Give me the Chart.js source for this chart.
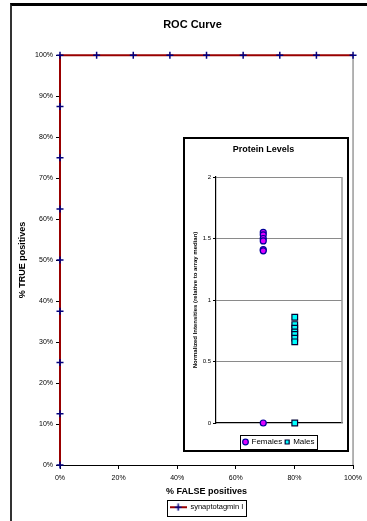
<!DOCTYPE html>
<html>
<head>
<meta charset="utf-8">
<script src="https://cdn.jsdelivr.net/npm/chart.js@4.4.0/dist/chart.umd.min.js"></script>
<style>
  html, body { margin: 0; padding: 0; background: #fff; }
  #wrap { position: relative; width: 367px; height: 521px; overflow: hidden; }
  #frame { position: absolute; left: 10px; top: 3px; width: 420px; height: 540px; border-top: 3px solid #000; border-left: 2px solid #333; }
  #rocChart { position: absolute; left: 0; top: 0; }
  #inset { position: absolute; left: 183px; top: 137px; width: 166px; height: 315px; box-sizing: border-box; border: 2px solid #000; background: #fff; overflow: hidden; }
  #proteinChart { position: absolute; left: 0; top: 0; }
</style>
</head>
<body>
<div id="wrap">
  <div id="frame"></div>
  <canvas id="rocChart" width="367" height="521"></canvas>
  <div id="inset"><canvas id="proteinChart" width="162" height="317"></canvas></div>
</div>
<script>
// ROC curve (percent)
const rocLabel = "synaptotagmin I";
const rocFalsePos = [0, 0, 0, 0, 0, 0, 0, 0, 0, 12.5, 25, 37.5, 50, 62.5, 75, 87.5, 100];
const rocTruePos = [0, 12.5, 25, 37.5, 50, 62.5, 75, 87.5, 100, 100, 100, 100, 100, 100, 100, 100, 100];

// inset: protein levels
const groupNames = ["Females", "Males"];
const groupPos = [1.5, 2.5];
const femaleLevels = [1.55, 1.53, 1.5, 1.48, 1.41, 1.4, 0];
const maleLevels = [0.86, 0.8, 0.77, 0.74, 0.72, 0.69, 0.66, 0];

Chart.defaults.font.family = "'Liberation Sans', Arial, sans-serif";
Chart.defaults.color = "#000";

// little line + cross picture for the ROC legend
const legendMark = document.createElement("canvas");
legendMark.width = 17;
legendMark.height = 8;
(function () {
  const c = legendMark.getContext("2d");
  c.strokeStyle = "#990000";
  c.lineWidth = 2;
  c.beginPath(); c.moveTo(0, 4); c.lineTo(17, 4); c.stroke();
  c.strokeStyle = "#000080";
  c.lineWidth = 1.5;
  c.beginPath(); c.moveTo(5, 4); c.lineTo(12, 4); c.moveTo(8.5, 0.5); c.lineTo(8.5, 7.5); c.stroke();
})();

function legendBox(chart, padX, padY) {
  const boxes = chart.legend.legendHitBoxes;
  if (!boxes.length) return;
  const first = boxes[0], last = boxes[boxes.length - 1];
  const ctx = chart.ctx;
  ctx.save();
  ctx.strokeStyle = "#000";
  ctx.lineWidth = 1;
  ctx.strokeRect(Math.round(first.left - padX) + 0.5, Math.round(first.top - padY) + 0.5,
    Math.round(last.left + last.width - first.left + 2 * padX), Math.round(first.height + 2 * padY));
  ctx.restore();
}

function rightBorder(chart) {
  const a = chart.chartArea;
  const ctx = chart.ctx;
  ctx.save();
  ctx.strokeStyle = "#9a9a9a";
  ctx.lineWidth = 1.5;
  ctx.beginPath();
  ctx.moveTo(a.right, a.top);
  ctx.lineTo(a.right, a.bottom);
  ctx.stroke();
  ctx.restore();
}

new Chart(document.getElementById("rocChart"), {
  type: "scatter",
  data: {
    datasets: [{
      label: rocLabel,
      data: rocFalsePos.map((x, i) => ({ x: x, y: rocTruePos[i] })),
      showLine: true,
      borderColor: "#990000",
      borderWidth: 2,
      pointStyle: "cross",
      pointRadius: 3.5,
      pointBorderColor: "#000080",
      pointBackgroundColor: "#000080",
      pointBorderWidth: 1.5,
      clip: false,
    }],
  },
  options: {
    responsive: false,
    animation: false,
    layout: { autoPadding: false, padding: { left: 12, right: 12, top: 0, bottom: 0 } },
    scales: {
      x: {
        type: "linear",
        min: 0,
        max: 100,
        afterFit: (s) => { s.height = 34.5; },
        ticks: { stepSize: 20, callback: (v) => v + "%", padding: 5, font: { size: 7 }, maxRotation: 0 },
        grid: { drawOnChartArea: false, tickLength: 4, color: "#000" },
        border: { color: "#000", width: 1 },
        title: { display: true, text: "% FALSE positives", font: { size: 9, weight: "bold" }, padding: { top: 0, bottom: 2.6 } },
      },
      y: {
        type: "linear",
        min: 0,
        max: 100,
        afterFit: (s) => { s.width = 48; },
        ticks: { stepSize: 10, callback: (v) => v + "%", padding: 3, font: { size: 7 } },
        grid: { drawOnChartArea: false, tickLength: 4, color: "#000" },
        border: { color: "#000", width: 1 },
        title: { display: true, text: "% TRUE positives", font: { size: 9, weight: "bold" }, padding: { top: 5.5, bottom: 0 } },
      },
    },
    plugins: {
      title: { display: true, text: "ROC Curve", font: { size: 11, weight: "bold" }, padding: { top: 18, bottom: 24 } },
      legend: {
        position: "bottom",
        fullSize: false,
        labels: { usePointStyle: true, pointStyle: legendMark, pointStyleWidth: 17, font: { size: 7.5 }, padding: 4 },
      },
      tooltip: { enabled: false },
    },
  },
  plugins: [{
    id: "rocExtras",
    afterLayout(chart) { chart.titleBlock.left += 18; },
    beforeDatasetsDraw(chart) { rightBorder(chart); },
    afterDraw(chart) { legendBox(chart, 2.5, 4); },
  }],
});

new Chart(document.getElementById("proteinChart"), {
  type: "scatter",
  data: {
    datasets: [
      {
        label: groupNames[0],
        data: femaleLevels.map((v) => ({ x: groupPos[0], y: v })),
        pointStyle: "circle",
        pointRadius: 3,
        backgroundColor: "#dd00ff",
        borderColor: "#000099",
        borderWidth: 1.2,
        clip: false,
      },
      {
        label: groupNames[1],
        data: maleLevels.map((v) => ({ x: groupPos[1], y: v })),
        pointStyle: "rect",
        pointRadius: 4,
        backgroundColor: "#00ffff",
        borderColor: "#000033",
        borderWidth: 1.2,
        clip: false,
      },
    ],
  },
  options: {
    responsive: false,
    animation: false,
    layout: { autoPadding: false, padding: { left: 0, right: 5, top: 0, bottom: 0 } },
    scales: {
      x: {
        type: "linear",
        min: 0,
        max: 4,
        afterFit: (s) => { s.height = 12; },
        ticks: { display: false },
        grid: { display: false },
        border: { color: "#000", width: 1.2 },
      },
      y: {
        type: "linear",
        min: 0,
        max: 2,
        afterFit: (s) => { s.width = 31; },
        ticks: { stepSize: 0.5, padding: 2, font: { size: 6 }, callback: (v) => String(v) },
        grid: {
          color: (c) => (c.tick && c.tick.value === 0 ? "rgba(0,0,0,0)" : "#8a8a8a"),
          tickColor: "#000",
          tickLength: 3,
        },
        border: { color: "#000", width: 1.2 },
        title: { display: true, text: "Normalized Intensities (relative to array median)", font: { size: 6, weight: "bold" }, padding: { top: 6.4, bottom: 0 } },
      },
    },
    plugins: {
      title: { display: true, text: "Protein Levels", font: { size: 9, weight: "bold" }, padding: { top: 5.6, bottom: 21.6 } },
      legend: {
        position: "bottom",
        fullSize: false,
        labels: { usePointStyle: true, boxWidth: 4, boxHeight: 4, font: { size: 8 }, padding: 3 },
      },
      tooltip: { enabled: false },
    },
  },
  plugins: [{
    id: "insetExtras",
    beforeDatasetsDraw(chart) { rightBorder(chart); },
    afterDraw(chart) { legendBox(chart, 3, 3); },
  }],
});
</script>
</body>
</html>
